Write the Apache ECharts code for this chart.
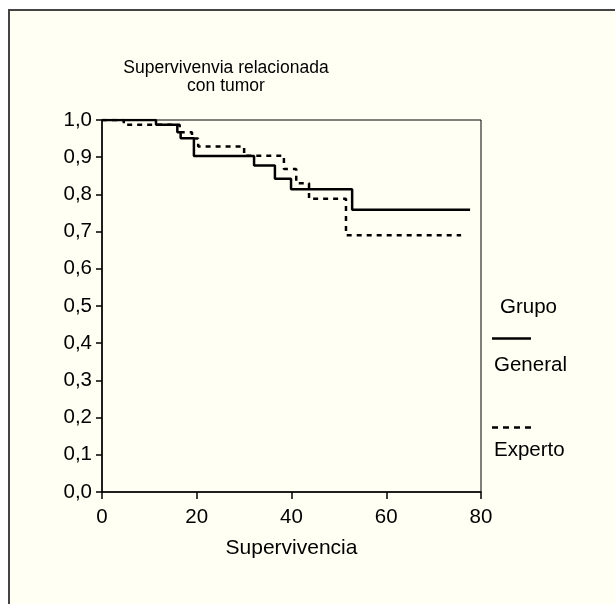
<!DOCTYPE html>
<html>
<head>
<meta charset="utf-8">
<script src="https://cdn.jsdelivr.net/npm/echarts@6/dist/echarts.min.js"></script>
<style>
  html, body { margin: 0; padding: 0; background: #ffffff; }
  #main { width: 615px; height: 604px; }
</style>
</head>
<body>
<div id="main"></div>
<script>
// Kaplan-Meier curves: time of each drop and the survival value after it
const generalTime = [0, 11.4, 15.9, 16.6, 19.4, 32.1, 36.5, 39.9, 52.8, 77.7]
const generalSurv = [1.0, 0.987, 0.967, 0.951, 0.903, 0.878, 0.842, 0.814, 0.759, 0.759]
const expertoTime = [0, 4.6, 16.4, 19.0, 20.3, 30.0, 38.4, 41.0, 43.7, 51.5, 75.8]
const expertoSurv = [1.0, 0.987, 0.967, 0.950, 0.929, 0.904, 0.868, 0.830, 0.788, 0.690, 0.690]

const xTicks = [0, 20, 40, 60, 80]
const yTicks = [0, 0.1, 0.2, 0.3, 0.4, 0.5, 0.6, 0.7, 0.8, 0.9, 1.0]

const titleText = 'Supervivenvia relacionada\ncon tumor'
const xName = 'Supervivencia'
const legendTitle = 'Grupo'
const groupNames = ['General', 'Experto']

const font = 'Liberation Sans, Arial, Helvetica, sans-serif'

function pairs(xs, ys) {
  return xs.map((x, i) => [x, ys[i]])
}

const option = {
  backgroundColor: '#ffffff',
  animation: false,
  textStyle: { fontFamily: font, color: '#000' },
  grid: {
    left: 102,
    right: 134,
    top: 120,
    bottom: 112,
    show: true,
    borderColor: '#000',
    borderWidth: 1,
    backgroundColor: 'transparent'
  },
  graphic: [
    {
      type: 'rect',
      z: -10,
      silent: true,
      shape: { x: 9, y: 10, width: 640, height: 640 },
      style: { fill: '#fffff3', stroke: '#444', lineWidth: 2 }
    },
    {
      type: 'text',
      x: 226,
      y: 59,
      style: {
        text: titleText,
        fontFamily: font,
        fontSize: 17.5,
        lineHeight: 18,
        align: 'center',
        verticalAlign: 'top',
        fill: '#000'
      }
    },
    {
      type: 'text',
      x: 500,
      y: 307,
      style: { text: legendTitle, fontFamily: font, fontSize: 20.5, verticalAlign: 'middle', fill: '#000' }
    },
    {
      type: 'line',
      shape: { x1: 492, y1: 338.5, x2: 531, y2: 338.5 },
      style: { stroke: '#000', lineWidth: 2.5 }
    },
    {
      type: 'text',
      x: 494,
      y: 365,
      style: { text: groupNames[0], fontFamily: font, fontSize: 20.5, verticalAlign: 'middle', fill: '#000' }
    },
    {
      type: 'line',
      shape: { x1: 492, y1: 427.5, x2: 531, y2: 427.5 },
      style: { stroke: '#000', lineWidth: 2.5, lineDash: [6, 5] }
    },
    {
      type: 'text',
      x: 494,
      y: 450,
      style: { text: groupNames[1], fontFamily: font, fontSize: 20.5, verticalAlign: 'middle', fill: '#000' }
    }
  ],
  xAxis: {
    type: 'value',
    min: xTicks[0],
    max: xTicks[xTicks.length - 1],
    interval: 20,
    name: xName,
    nameLocation: 'middle',
    nameGap: 46,
    nameTextStyle: { fontFamily: font, fontSize: 21, color: '#000' },
    splitLine: { show: false },
    axisLine: { onZero: false, lineStyle: { color: '#000', width: 1.5 } },
    axisTick: { show: true, length: 7, lineStyle: { color: '#000', width: 1.5 } },
    axisLabel: { fontFamily: font, fontSize: 20.5, color: '#000', margin: 15 }
  },
  yAxis: {
    type: 'value',
    min: yTicks[0],
    max: yTicks[yTicks.length - 1],
    interval: 0.1,
    splitLine: { show: false },
    axisLine: { show: true, lineStyle: { color: '#000', width: 1.5 } },
    axisTick: { show: true, length: 6, lineStyle: { color: '#000', width: 1.5 } },
    axisLabel: {
      fontFamily: font,
      fontSize: 20.5,
      color: '#000',
      margin: 10,
      formatter: v => v.toFixed(1).replace('.', ',')
    }
  },
  series: [
    {
      name: groupNames[0],
      type: 'line',
      step: 'end',
      showSymbol: false,
      lineStyle: { color: '#000', width: 2.5 },
      data: pairs(generalTime, generalSurv),
      z: 3
    },
    {
      name: groupNames[1],
      type: 'line',
      step: 'end',
      showSymbol: false,
      lineStyle: { color: '#000', width: 2.5, type: [5, 5] },
      data: pairs(expertoTime, expertoSurv),
      z: 2
    }
  ]
}

const chart = echarts.init(document.getElementById('main'))
chart.setOption(option)
</script>
</body>
</html>
